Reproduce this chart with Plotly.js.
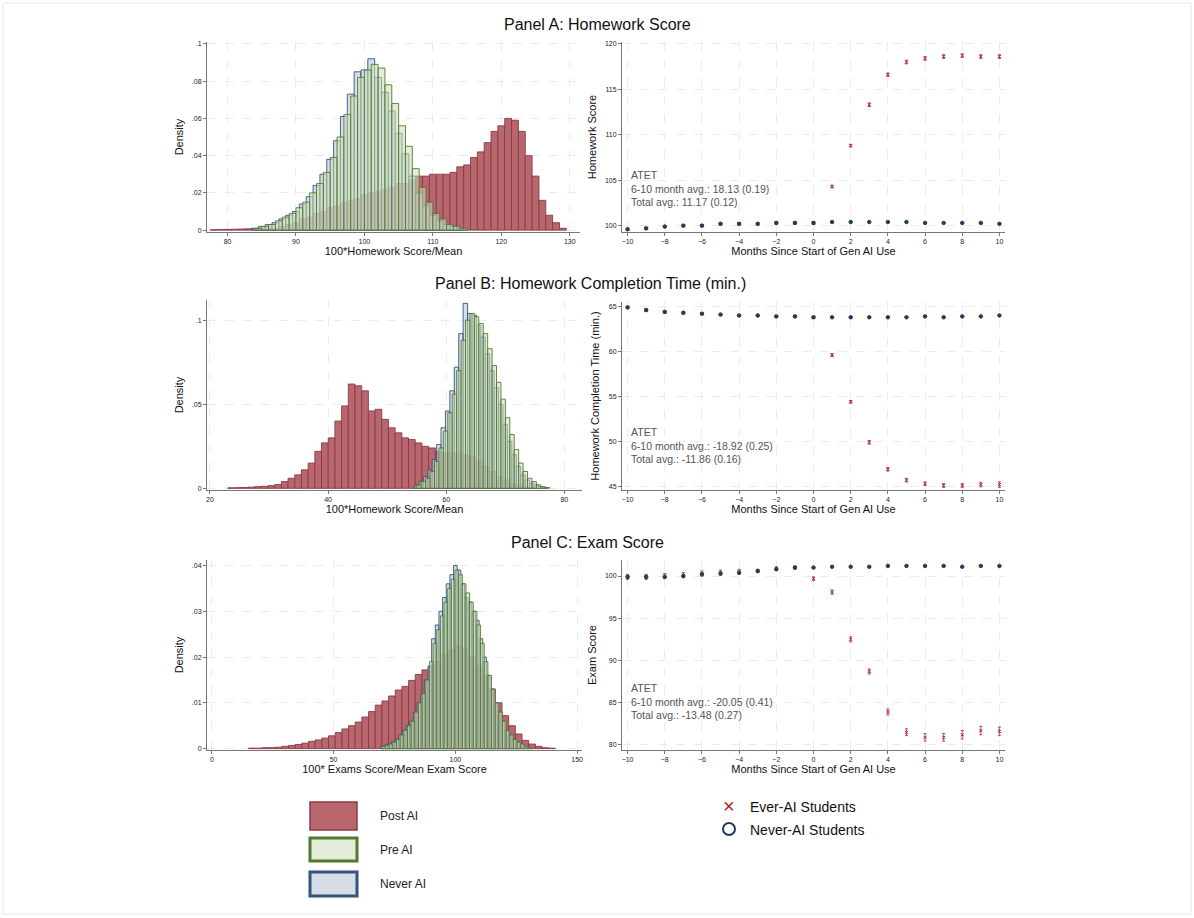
<!DOCTYPE html>
<html>
<head>
<meta charset="utf-8">
<script src="https://cdn.plot.ly/plotly-3.0.1.min.js"></script>
<style>body{margin:0;background:#fff}#chart{width:1194px;height:918px}</style>
</head>
<body>
<div id="chart"></div>
<script>
// ---- Panel A histograms (100*Homework Score/Mean)
const aPostStart = 78, aPostWidth = 1
const aPost = [0.0002, 0.0003, 0.0004, 0.0005, 0.0006, 0.0007, 0.0008, 0.0009, 0.001, 0.001, 0.002, 0.003, 0.004, 0.006, 0.007, 0.009, 0.010, 0.012, 0.013, 0.015, 0.016, 0.017, 0.019, 0.020, 0.021, 0.022, 0.023, 0.025, 0.025, 0.027, 0.029, 0.029, 0.030, 0.030, 0.030, 0.031, 0.034, 0.035, 0.039, 0.042, 0.047, 0.053, 0.056, 0.060, 0.059, 0.053, 0.040, 0.029, 0.016, 0.008, 0.004, 0.001]
const aNeverStart = 84, aNeverWidth = 1
const aNever = [0.001, 0.002, 0.003, 0.004, 0.006, 0.008, 0.010, 0.014, 0.018, 0.024, 0.030, 0.038, 0.048, 0.061, 0.073, 0.085, 0.086, 0.092, 0.082, 0.074, 0.064, 0.052, 0.041, 0.029, 0.020, 0.013, 0.008, 0.005, 0.003, 0.002, 0.001]
const aPreStart = 84.5, aPreWidth = 1
const aPre = [0.001, 0.002, 0.003, 0.005, 0.007, 0.009, 0.012, 0.015, 0.020, 0.025, 0.031, 0.039, 0.050, 0.062, 0.072, 0.082, 0.086, 0.089, 0.087, 0.078, 0.068, 0.056, 0.045, 0.033, 0.023, 0.015, 0.009, 0.006, 0.003, 0.002, 0.001]

// ---- Panel B histograms (completion time)
const bPostStart = 23.6, bPostWidth = 1.133
const bPost = [0.0003, 0.0004, 0.0005, 0.0007, 0.001, 0.0012, 0.0016, 0.0022, 0.004, 0.006, 0.008, 0.011, 0.015, 0.022, 0.027, 0.030, 0.040, 0.049, 0.062, 0.061, 0.058, 0.046, 0.047, 0.041, 0.036, 0.033, 0.030, 0.029, 0.027, 0.025, 0.024, 0.022, 0.021, 0.021, 0.021, 0.020, 0.019, 0.016, 0.013, 0.010, 0.007, 0.005, 0.003, 0.002, 0.001, 0.0005]
const bNeverStart = 55, bNeverWidth = 0.75
const bNever = [0.002, 0.004, 0.007, 0.011, 0.017, 0.026, 0.036, 0.046, 0.058, 0.072, 0.092, 0.110, 0.104, 0.103, 0.097, 0.090, 0.080, 0.070, 0.060, 0.050, 0.038, 0.028, 0.020, 0.013, 0.008, 0.005, 0.003, 0.002, 0.001, 0.0005]
const bPreStart = 55.4, bPreWidth = 0.75
const bPre = [0.002, 0.004, 0.006, 0.010, 0.016, 0.024, 0.034, 0.045, 0.056, 0.070, 0.088, 0.100, 0.104, 0.102, 0.098, 0.092, 0.083, 0.073, 0.063, 0.053, 0.042, 0.032, 0.023, 0.015, 0.010, 0.006, 0.004, 0.002, 0.001, 0.0005]

// ---- Panel C histograms (exam score)
const cPostStart = 16.4, cPostWidth = 2.74
const cPost = [0.0001, 0.0001, 0.0002, 0.0002, 0.0003, 0.0005, 0.0007, 0.0009, 0.0012, 0.0016, 0.0019, 0.0023, 0.0028, 0.0035, 0.0043, 0.0050, 0.0058, 0.0069, 0.0081, 0.0095, 0.0104, 0.0115, 0.0128, 0.0136, 0.0149, 0.0162, 0.0172, 0.0180, 0.0190, 0.0208, 0.0216, 0.0224, 0.0218, 0.0200, 0.0180, 0.0160, 0.0130, 0.0100, 0.0072, 0.0050, 0.0032, 0.0018, 0.0010, 0.0005, 0.0002, 0.0001]
const cNeverStart = 70, cNeverWidth = 1.5
const cNever = [0.0005, 0.0008, 0.001, 0.0015, 0.002, 0.003, 0.004, 0.005, 0.006, 0.008, 0.010, 0.012, 0.015, 0.018, 0.024, 0.027, 0.030, 0.033, 0.036, 0.038, 0.040, 0.039, 0.036, 0.033, 0.032, 0.030, 0.028, 0.024, 0.020, 0.016, 0.013, 0.010, 0.008, 0.006, 0.004, 0.003, 0.002, 0.0015, 0.001, 0.0005, 0.0003]
const cPreStart = 70.6, cPreWidth = 1.5
const cPre = [0.0005, 0.0007, 0.001, 0.0014, 0.002, 0.003, 0.004, 0.005, 0.006, 0.008, 0.010, 0.012, 0.015, 0.019, 0.023, 0.026, 0.029, 0.032, 0.035, 0.037, 0.039, 0.038, 0.036, 0.034, 0.032, 0.030, 0.027, 0.023, 0.019, 0.016, 0.013, 0.010, 0.008, 0.006, 0.004, 0.003, 0.002, 0.0014, 0.001, 0.0005, 0.0003]

// ---- Event study (months since start of gen AI use)
const months = [-10, -9, -8, -7, -6, -5, -4, -3, -2, -1, 0, 1, 2, 3, 4, 5, 6, 7, 8, 9, 10]
const aNeverY = [99.6, 99.7, 99.9, 100.0, 100.0, 100.2, 100.2, 100.2, 100.3, 100.3, 100.3, 100.4, 100.4, 100.4, 100.4, 100.4, 100.3, 100.3, 100.3, 100.3, 100.2]
const aEverY = [99.6, 99.7, 99.9, 100.0, 100.0, 100.2, 100.2, 100.2, 100.3, 100.3, 100.3, 104.3, 108.8, 113.3, 116.6, 118.0, 118.4, 118.6, 118.7, 118.6, 118.6]
const aEverErr = [0.1, 0.1, 0.1, 0.1, 0.1, 0.1, 0.1, 0.1, 0.1, 0.1, 0.15, 0.15, 0.15, 0.2, 0.2, 0.2, 0.2, 0.2, 0.2, 0.2, 0.2]
const bNeverY = [64.9, 64.6, 64.4, 64.3, 64.2, 64.1, 64.0, 64.0, 63.9, 63.9, 63.8, 63.8, 63.8, 63.8, 63.8, 63.8, 63.9, 63.8, 63.9, 63.9, 64.0]
const bEverY = [64.9, 64.6, 64.4, 64.3, 64.2, 64.1, 64.0, 64.0, 63.9, 63.9, 63.8, 59.6, 54.4, 49.9, 46.9, 45.7, 45.3, 45.1, 45.1, 45.2, 45.2]
const bEverErr = [0.1, 0.1, 0.1, 0.1, 0.1, 0.1, 0.1, 0.1, 0.1, 0.1, 0.1, 0.15, 0.15, 0.2, 0.2, 0.2, 0.2, 0.2, 0.2, 0.25, 0.3]
const cNeverY = [99.9, 99.9, 99.9, 100.0, 100.2, 100.3, 100.4, 100.6, 100.8, 101.0, 101.0, 101.1, 101.1, 101.1, 101.2, 101.2, 101.2, 101.2, 101.1, 101.2, 101.2]
const cEverY = [99.9, 99.9, 100.0, 100.1, 100.3, 100.4, 100.5, 100.6, 100.9, 101.0, 99.7, 98.1, 92.5, 88.7, 83.9, 81.5, 80.9, 80.9, 81.2, 81.7, 81.6]
const cEverErr = [0.3, 0.3, 0.3, 0.3, 0.3, 0.3, 0.3, 0.2, 0.2, 0.2, 0.2, 0.25, 0.3, 0.3, 0.35, 0.4, 0.45, 0.45, 0.5, 0.5, 0.5]

const atetA = ['ATET', '6-10 month avg.: 18.13 (0.19)', 'Total avg.: 11.17 (0.12)']
const atetB = ['ATET', '6-10 month avg.: -18.92 (0.25)', 'Total avg.: -11.86 (0.16)']
const atetC = ['ATET', '6-10 month avg.: -20.05 (0.41)', 'Total avg.: -13.48 (0.27)']

const POST_FILL = '#b8676f'
const POST_LINE = '#8a3a44'
const PRE_FILL = 'rgba(205,222,180,0.55)'
const PRE_LINE = '#55782f'
const NEVER_FILL = 'rgba(185,202,224,0.6)'
const NEVER_LINE = '#33557d'
const EVER_COLOR = '#b0202a'
const NEV_COLOR = '#1f3b5c'

function hist (start, width, vals, fill, line, xa, ya) {
  return {
    type: 'bar',
    x: vals.map((v, i) => start + i * width),
    y: vals,
    width: width,
    marker: { color: fill, line: { color: line, width: 0.9 } },
    xaxis: xa,
    yaxis: ya,
    showlegend: false,
    hoverinfo: 'x+y'
  }
}

function dots (ys, err, color, symbol, size, xa, ya) {
  let t = {
    type: 'scatter',
    mode: 'markers',
    x: months,
    y: ys,
    marker: { color: color, symbol: symbol, size: size, line: { color: color, width: 1 } },
    xaxis: xa,
    yaxis: ya,
    showlegend: false
  }
  if (err) t.error_y = { type: 'data', array: err, color: color, thickness: 0.8, width: 1.5 }
  return t
}

const traces = [
  hist(aPostStart, aPostWidth, aPost, POST_FILL, POST_LINE, 'x', 'y'),
  hist(aNeverStart, aNeverWidth, aNever, NEVER_FILL, NEVER_LINE, 'x', 'y'),
  hist(aPreStart, aPreWidth, aPre, PRE_FILL, PRE_LINE, 'x', 'y'),
  hist(bPostStart, bPostWidth, bPost, POST_FILL, POST_LINE, 'x3', 'y3'),
  hist(bNeverStart, bNeverWidth, bNever, NEVER_FILL, NEVER_LINE, 'x3', 'y3'),
  hist(bPreStart, bPreWidth, bPre, PRE_FILL, PRE_LINE, 'x3', 'y3'),
  hist(cPostStart, cPostWidth, cPost, POST_FILL, POST_LINE, 'x5', 'y5'),
  hist(cNeverStart, cNeverWidth, cNever, NEVER_FILL, NEVER_LINE, 'x5', 'y5'),
  hist(cPreStart, cPreWidth, cPre, PRE_FILL, PRE_LINE, 'x5', 'y5'),
  dots(aEverY, aEverErr, EVER_COLOR, 'x-thin', 3, 'x2', 'y2'),
  dots(aNeverY, null, NEV_COLOR, 'circle', 3.5, 'x2', 'y2'),
  dots(bEverY, bEverErr, EVER_COLOR, 'x-thin', 3, 'x4', 'y4'),
  dots(bNeverY, null, NEV_COLOR, 'circle', 3.5, 'x4', 'y4'),
  dots(cEverY, cEverErr, EVER_COLOR, 'x-thin', 3, 'x6', 'y6'),
  dots(cNeverY, null, NEV_COLOR, 'circle', 3.5, 'x6', 'y6')
]

const W = 1194, H = 918
const px = v => v / W
const py = v => 1 - v / H

function ax (d, extra) {
  return Object.assign({
    domain: d,
    showline: true,
    linecolor: '#777',
    linewidth: 1,
    ticks: 'outside',
    ticklen: 3,
    tickcolor: '#777',
    tickfont: { size: 7, color: '#222' },
    showgrid: true,
    gridcolor: '#ececec',
    griddash: 'dash',
    zeroline: false
  }, extra)
}

const xt = t => ({ text: t, font: { size: 11, color: '#111' }, standoff: 2 })
const yt = t => ({ text: t, font: { size: 11, color: '#111' }, standoff: 6 })
const monthTicks = [-10, -8, -6, -4, -2, 0, 2, 4, 6, 8, 10]

function note (text, x, y, size, color, anchor) {
  return { text: text, xref: 'paper', yref: 'paper', x: px(x), y: py(y), xanchor: anchor || 'center', yanchor: 'middle', showarrow: false, font: { size: size, color: color || '#111' } }
}
function atet (lines, xa, ya, y) {
  return { text: lines.join('<br>'), xref: xa, yref: ya, x: -9.9, y: y, xanchor: 'left', yanchor: 'middle', align: 'left', showarrow: false, font: { size: 10.5, color: '#555' } }
}

const layout = {
  width: W,
  height: H,
  margin: { l: 0, r: 0, t: 0, b: 0 },
  paper_bgcolor: '#fff',
  plot_bgcolor: '#fff',
  barmode: 'overlay',
  font: { family: 'Liberation Sans, Arial, sans-serif' },
  xaxis: ax([px(207), px(580)], { anchor: 'y', range: [77, 131.5], tickvals: [80, 90, 100, 110, 120, 130], title: xt('100*Homework Score/Mean') }),
  yaxis: ax([py(232), py(42)], { anchor: 'x', range: [-0.001, 0.101], tickvals: [0, 0.02, 0.04, 0.06, 0.08, 0.1], ticktext: ['0', '.02', '.04', '.06', '.08', '.1'], title: yt('Density') }),
  xaxis2: ax([px(622), px(1005)], { anchor: 'y2', range: [-10.3, 10.3], tickvals: monthTicks, title: xt('Months Since Start of Gen AI Use') }),
  yaxis2: ax([py(232), py(42)], { anchor: 'x2', range: [99.3, 120.2], tickvals: [100, 105, 110, 115, 120], title: yt('Homework Score') }),
  xaxis3: ax([px(207), px(582)], { anchor: 'y3', range: [19.5, 83], tickvals: [20, 40, 60, 80], title: xt('100*Homework Score/Mean') }),
  yaxis3: ax([py(490), py(300)], { anchor: 'x3', range: [-0.001, 0.112], tickvals: [0, 0.05, 0.1], ticktext: ['0', '.05', '.1'], title: yt('Density') }),
  xaxis4: ax([px(622), px(1005)], { anchor: 'y4', range: [-10.3, 10.3], tickvals: monthTicks, title: xt('Months Since Start of Gen AI Use') }),
  yaxis4: ax([py(490), py(302)], { anchor: 'x4', range: [44.6, 65.5], tickvals: [45, 50, 55, 60, 65], title: yt('Homework Completion Time (min.)') }),
  xaxis5: ax([px(207), px(582)], { anchor: 'y5', range: [-2, 152], tickvals: [0, 50, 100, 150], title: xt('100* Exams Score/Mean Exam Score') }),
  yaxis5: ax([py(750), py(560)], { anchor: 'x5', range: [-0.0003, 0.0412], tickvals: [0, 0.01, 0.02, 0.03, 0.04], ticktext: ['0', '.01', '.02', '.03', '.04'], title: yt('Density') }),
  xaxis6: ax([px(622), px(1005)], { anchor: 'y6', range: [-10.3, 10.3], tickvals: monthTicks, title: xt('Months Since Start of Gen AI Use') }),
  yaxis6: ax([py(750), py(560)], { anchor: 'x6', range: [79.4, 101.9], tickvals: [80, 85, 90, 95, 100], title: yt('Exam Score') }),
  annotations: [
    note('Panel A: Homework Score', 597, 25, 16),
    note('Panel B: Homework Completion Time (min.)', 590, 284, 16),
    note('Panel C: Exam Score', 587, 542, 16),
    atet(atetA, 'x2', 'y2', 104.1),
    atet(atetB, 'x4', 'y4', 49.6),
    atet(atetC, 'x6', 'y6', 85.2),
    note('Post AI', 378, 816, 12, '#222', 'left'),
    note('Pre AI', 378, 850, 12, '#222', 'left'),
    note('Never AI', 378, 884, 12, '#222', 'left'),
    note('×', 729, 806, 20, EVER_COLOR),
    note('Ever-AI Students', 748, 807, 14, '#111', 'left'),
    note('Never-AI Students', 748, 830, 14, '#111', 'left')
  ],
  shapes: [
    { type: 'rect', xref: 'paper', yref: 'paper', x0: px(310), x1: px(357), y0: py(830), y1: py(802), fillcolor: POST_FILL, line: { color: POST_LINE, width: 1.5 } },
    { type: 'rect', xref: 'paper', yref: 'paper', x0: px(310), x1: px(357), y0: py(861), y1: py(838), fillcolor: '#e4ecda', line: { color: PRE_LINE, width: 3 } },
    { type: 'rect', xref: 'paper', yref: 'paper', x0: px(310), x1: px(357), y0: py(896), y1: py(872), fillcolor: '#d7dde6', line: { color: NEVER_LINE, width: 3 } },
    { type: 'circle', xref: 'paper', yref: 'paper', x0: px(723), x1: px(735), y0: py(835), y1: py(823), line: { color: NEV_COLOR, width: 2 } },
    { type: 'rect', xref: 'paper', yref: 'paper', x0: px(3), x1: px(1191), y0: py(914), y1: py(3), line: { color: '#e6e6e6', width: 1 } }
  ]
}

Plotly.newPlot('chart', traces, layout, { displayModeBar: false, staticPlot: true })
</script>
</body>
</html>
